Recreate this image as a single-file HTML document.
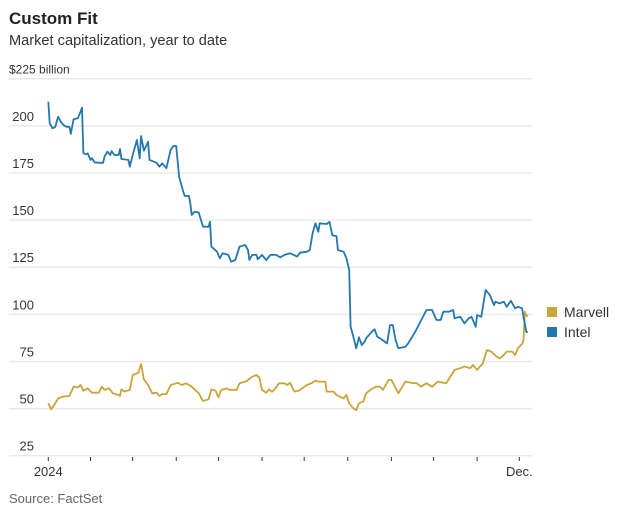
<!DOCTYPE html>
<html><head><meta charset="utf-8"><style>
body{margin:0;background:#fff;width:627px;height:515px;overflow:hidden;font-family:"Liberation Sans",sans-serif}
svg{display:block}
</style></head><body>
<svg id="chart" width="627" height="515">
<text x="9" y="24" font-size="17" font-weight="bold" fill="#222">Custom Fit</text>
<text x="9" y="45" font-size="14.6" fill="#333">Market capitalization, year to date</text>
<g id="grid"></g>
<g id="xaxis"></g>
<g id="series"></g>
<g>
<g><rect x="547" y="307" width="10" height="10" fill="#c7a53a"/><text x="564" y="317" font-size="14" fill="#333">Marvell</text></g>
<g><rect x="547" y="327" width="10" height="10" fill="#2478ad"/><text x="564" y="337" font-size="14" fill="#333">Intel</text></g>
</g>
<text x="9" y="503" font-size="13" fill="#666">Source: FactSet</text>
</svg>
<script>
const yTicks=[25,50,75,100,125,150,175,200,225];
const yTickLabels=["25","50","75","100","125","150","175","200","$225 billion"];
const xTickDays=[0,30,60,91,121,152,182,213,244,274,305,335];
const xTickLabels={0:"2024",335:"Dec."};
const intelDays=[0,1,3,5,7,9,11,13,15,16,18,21,23,24,25,27,28,30,31,33,37,39,40,42,44,45,47,50,51,52,57,58,60,63,65,66,68,71,72,77,79,81,84,87,89,91,93,96,97,100,101,102,104,107,110,114,115,116,120,122,124,128,130,133,136,140,142,143,145,148,149,152,155,158,162,165,168,172,177,179,184,186,188,190,192,193,198,200,202,205,206,210,212,214,215,217,219,221,223,225,226,229,232,234,236,241,243,245,247,249,254,256,261,264,269,273,276,279,281,285,288,289,293,296,299,301,304,305,308,311,314,317,318,321,324,326,329,332,334,337,338,340,341];
const intelValues=[212.8,201.3,198.7,199.5,204.8,202,200.3,199.5,199.5,195.7,203.5,204,207.5,209.6,185.4,184.9,185.4,181.9,182.8,180.6,180.4,180.4,183.6,186.3,184.5,186.6,184.5,184.5,187.7,182.4,181.9,178.3,184.5,192.5,182.8,194.6,186.8,191.6,181.9,180.4,178.3,180.1,177.5,187.2,189.3,189.3,173,165,162.8,162.8,158.9,152.7,154.4,154,146.5,146.5,149.1,135.9,133.2,129.7,132.4,131.5,127.9,128.8,135.9,136.8,134.1,128.8,131.5,131.5,129.2,131.5,128.8,131.5,131.5,130.2,131.5,132.4,130.6,132.7,133.2,134.1,143,148.3,143.8,148.3,147.9,149.1,142,141.5,134.1,133.2,129.7,123.5,93.4,88.1,82,87.8,83.7,85.5,87.3,89.9,92.1,88.1,87.3,84.6,94.3,94.3,86.4,82,82.8,84.6,90.8,95.2,102.3,102.3,97,97,101.4,101.4,102.3,97.9,98.7,95.2,97.9,98.7,93.4,99.6,98.7,112.9,110.3,104.9,106.7,105.8,106.7,104,107.2,103.2,104,103.2,98.7,90.8,90.3];
const marvellDays=[0,2,5,7,10,15,18,21,23,25,28,31,36,38,40,43,46,50,51,52,54,58,60,64,66,68,71,74,77,79,81,84,87,92,95,98,102,107,110,114,116,119,121,123,127,129,134,136,141,145,148,150,152,155,157,159,161,164,168,170,172,175,178,184,187,190,192,197,198,203,205,210,212,214,217,219,221,224,226,229,233,236,238,242,244,249,254,258,262,265,269,273,277,283,289,293,296,300,302,305,309,312,315,319,321,324,326,330,332,334,337,338,339,340,341];
const marvellValues=[52.8,49.6,52.8,55.4,56.3,56.7,61.6,61.3,62.5,59.5,60.8,58.4,58.4,61.6,59.9,60.8,58.1,57.2,56.8,60.2,59,59.9,67.8,69,73.6,65.5,62.5,58.1,58.4,56.8,57.7,57.7,62.5,63.7,62.5,63.4,61.6,58.1,54,54.9,60.2,59.5,56,59.9,60.7,59.9,59.9,63.4,64.6,66.9,67.8,66.6,59.9,58.4,60.2,58.9,60.2,63.4,63.4,62.5,63.7,59,59.5,62.5,63.4,64.8,64.3,64.3,59,59,57.2,55.4,57.2,52.8,50.1,49.2,52.8,53.7,58.1,59.9,61.6,61.6,59.9,65.2,65.2,58.1,64.3,63.7,63.4,61.6,63.4,61.6,64.3,63.4,70.5,71.4,72.3,71.4,73.1,70.5,74,81.1,80.2,77.5,76.6,78.4,80.2,80.2,78.4,82,84.3,86.4,101.4,99.6,98.7];

const NS="http://www.w3.org/2000/svg";
const y=v=>455.7-(v-25)*1.885;
const x=d=>48.3+d*1.406;
function mk(tag,attrs,parent){const e=document.createElementNS(NS,tag);for(const k in attrs)e.setAttribute(k,attrs[k]);parent.appendChild(e);return e;}
const grid=document.getElementById('grid');
yTicks.forEach((v,i)=>{
  const l=mk('line',{x1:9,x2:532,y1:y(v),y2:y(v),stroke:'#e9e9e9','stroke-width':1.5},grid);
  
  
  const last=i===yTicks.length-1;
  const t=mk('text',{x:last?9:34,y:y(v)-5,'font-size':last?12:13,fill:'#333','text-anchor':last?'start':'end'},grid);
  t.textContent=yTickLabels[i];
  
  
});
const xa=document.getElementById('xaxis');
xTickDays.forEach(d=>{
  const tk=mk('line',{x1:x(d),x2:x(d),y1:457,y2:461,stroke:'#333','stroke-width':1},xa);
  
  
  if(xTickLabels[d]){
    const t=mk('text',{x:x(d),y:476,'font-size':13,fill:'#333','text-anchor':'middle'},xa);
    t.textContent=xTickLabels[d];
    
    
  }
});
const sg=document.getElementById('series');
function line(days,vals,color,name){
  const p=mk('path',{d:days.map((d,i)=>(i?'L':'M')+x(d).toFixed(1)+' '+y(vals[i]).toFixed(1)).join(''),fill:'none',stroke:color,'stroke-width':1.8,'stroke-linejoin':'round'},sg);
  
  
}
line(marvellDays,marvellValues,'#c7a53a','marvell-line');
line(intelDays,intelValues,'#2478ad','intel-line');
</script>
</body></html>
